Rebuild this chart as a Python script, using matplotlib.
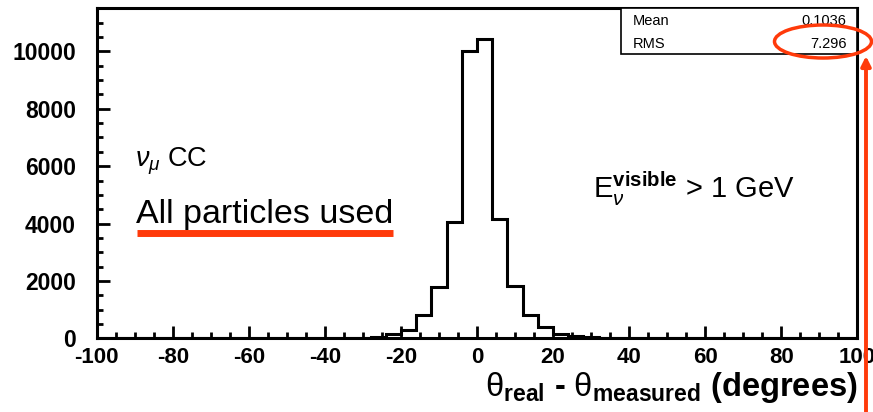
import numpy as np

import matplotlib
matplotlib.use('Agg')

import matplotlib.pyplot as plt
from matplotlib.patches import Ellipse, Rectangle
from matplotlib.lines import Line2D
from matplotlib.ticker import MultipleLocator

plt.rcParams['font.family'] = ['Liberation Sans', 'DejaVu Sans']
plt.rcParams['mathtext.fontset'] = 'custom'
plt.rcParams['mathtext.rm'] = 'Liberation Sans'
plt.rcParams['mathtext.it'] = 'Liberation Sans:italic'
plt.rcParams['mathtext.bf'] = 'Liberation Sans:bold'
plt.rcParams['axes.unicode_minus'] = False

# Histogram of angular residuals, 4 degree bins from -100 to 100
bin_edges = np.arange(-100, 104, 4)
counts = [
    0, 0, 0, 0, 0, 0, 0, 0, 0, 0,
    0, 0, 0, 0, 0, 0, 0, 20, 60, 150,
    310, 810, 1780, 4070, 10020, 10430, 4170, 1840, 820, 410,
    170, 90, 40, 15, 0, 0, 0, 0, 0, 0,
    0, 0, 0, 0, 0, 0, 0, 0, 0, 0,
]
stat_names = ['Mean', 'RMS']
stat_values = ['0.1036', '7.296']

RED = '#ff3a0a'

fig = plt.figure(figsize=(8.73, 4.12), dpi=100)
ax = fig.add_axes([0.1108, 0.1786, 0.8712, 0.8013])

ax.stairs(counts, bin_edges, color='black', linewidth=2.2)

ax.set_xlim(-100, 100)
ax.set_ylim(0, 11500)
ax.xaxis.set_major_locator(MultipleLocator(20))
ax.xaxis.set_minor_locator(MultipleLocator(5))
ax.yaxis.set_major_locator(MultipleLocator(2000))
ax.yaxis.set_minor_locator(MultipleLocator(500))

for side in ax.spines.values():
    side.set_linewidth(2.2)
ax.tick_params(which='both', direction='in', top=False, right=False, width=2)
ax.tick_params(which='major', length=9)
ax.tick_params(which='minor', length=4)
ax.tick_params(axis='x', which='major', pad=6, labelsize=16)
ax.tick_params(axis='y', which='major', pad=15, labelsize=16.5)
for lbl in ax.get_xticklabels() + ax.get_yticklabels():
    lbl.set_fontweight('bold')

# x axis title
ax.text(1.0, -0.175,
        r'$\mathrm{\theta}_{\mathbf{real}}$ - $\mathrm{\theta}_{\mathbf{measured}}$ (degrees)',
        transform=ax.transAxes, ha='right', va='baseline', fontsize=23.5,
        fontweight='bold')

# statistics box
ax.add_patch(Rectangle((0.689, 0.861), 0.311, 0.139, transform=ax.transAxes,
                       facecolor='white', edgecolor='black', linewidth=1.2,
                       zorder=5))
for name, value, y in zip(stat_names, stat_values, [0.962, 0.893]):
    ax.text(0.705, y, name, transform=ax.transAxes, fontsize=10.5,
            va='center', zorder=6)
    ax.text(0.986, y, value, transform=ax.transAxes, fontsize=10.5,
            va='center', ha='right', zorder=6)

# labels inside the frame
ax.text(0.050, 0.520, r'$\mathit{\nu_\mu}$ CC', transform=ax.transAxes,
        fontsize=19.5, va='baseline')
ax.text(0.052, 0.350, 'All particles used', transform=ax.transAxes,
        fontsize=24.5, va='baseline')
ax.text(0.653, 0.425, r'E$_{\nu}^{\mathbf{visible}}$ > 1 GeV',
        transform=ax.transAxes, fontsize=21, va='baseline')

# red highlights
fig.add_artist(Line2D([137, 393], [412 - 232.5, 412 - 232.5],
                      transform=None, color=RED, linewidth=5,
                      solid_capstyle='butt'))
fig.add_artist(Ellipse((823, 412 - 41.5), 97, 33, transform=None,
                       fill=False, edgecolor=RED, linewidth=2.5))
ax.annotate('', xy=(866, 412 - 56), xytext=(866, -2),
            xycoords='figure pixels', textcoords='figure pixels',
            arrowprops=dict(arrowstyle='-|>', color=RED, lw=2.8,
                            mutation_scale=14, shrinkA=0, shrinkB=0),
            annotation_clip=False)

fig.savefig('out.png', dpi=100)
plt.close(fig)
